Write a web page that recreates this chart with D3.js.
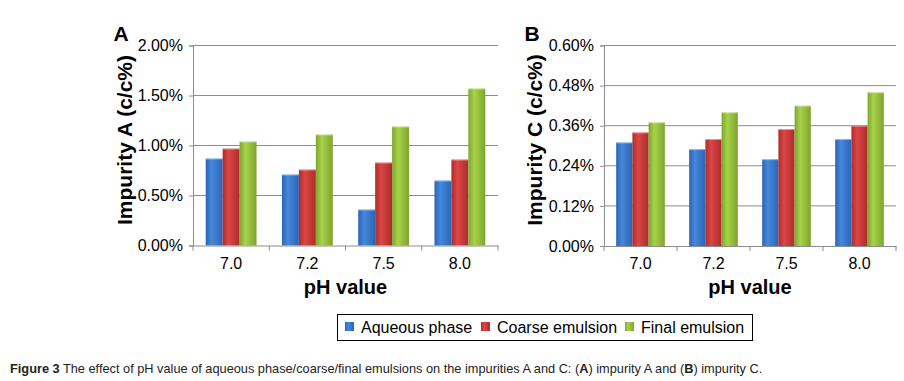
<!DOCTYPE html>
<html>
<head>
<meta charset="utf-8">
<script src="https://cdn.jsdelivr.net/npm/d3@7"></script>
<style>
  body { margin: 0; background: #fff; }
  svg { display: block; font-family: "Liberation Sans", Arial, sans-serif; }
</style>
</head>
<body>
<script>
// data
const categories = ["7.0", "7.2", "7.5", "8.0"];
const seriesNames = ["Aqueous phase", "Coarse emulsion", "Final emulsion"];
// impurity A (%)
const aqueousA = [0.87, 0.71, 0.36, 0.65];
const coarseA  = [0.97, 0.76, 0.83, 0.86];
const finalA   = [1.04, 1.11, 1.19, 1.57];
// impurity C (%)
const aqueousC = [0.31, 0.29, 0.26, 0.32];
const coarseC  = [0.34, 0.32, 0.35, 0.36];
const finalC   = [0.37, 0.40, 0.42, 0.46];
const ticksA = [0, 0.5, 1.0, 1.5, 2.0];
const ticksC = [0, 0.12, 0.24, 0.36, 0.48, 0.60];

const FONT = "'Liberation Sans', Arial, sans-serif";
const colors = [
  { mid: "#4488dc", edge: "#2d64b4" },
  { mid: "#dc4646", edge: "#ac2c2c" },
  { mid: "#a6d24a", edge: "#80a42e" }
];

const W = 904, H = 381;
const svg = d3.select("body").append("svg").attr("width", W).attr("height", H);

const defs = svg.append("defs");
colors.forEach((c, i) => {
  const g = defs.append("linearGradient").attr("id", "grad" + i)
    .attr("x1", "0%").attr("x2", "100%").attr("y1", "0%").attr("y2", "0%");
  g.append("stop").attr("offset", "0%").attr("stop-color", c.edge);
  g.append("stop").attr("offset", "35%").attr("stop-color", c.mid);
  g.append("stop").attr("offset", "100%").attr("stop-color", c.edge);
});

function panel(opts) {
  const { x0, x1, y0, y1, max, ticks, series, letter, title, titleX, letterX } = opts;
  const g = svg.append("g");

  const x = d3.scaleBand().domain(categories).range([x0, x1]).padding(0);
  const xs = d3.scaleBand().domain(seriesNames).range([0, x.bandwidth()])
    .paddingInner(0).paddingOuter(0.75);
  const y = d3.scaleLinear().domain([0, max]).range([y1, y0]);

  // gridlines
  g.selectAll(".grid").data(ticks.slice(1)).join("line")
    .attr("x1", x0).attr("x2", x1)
    .attr("y1", d => y(d)).attr("y2", d => y(d))
    .attr("stroke", "#8c8c8c").attr("stroke-width", 1);

  // y axis
  const yAxis = d3.axisLeft(y).tickValues(ticks).tickSize(4).tickPadding(6)
    .tickFormat(d => d.toFixed(2) + "%");
  const ya = g.append("g").attr("transform", `translate(${x0},0)`).call(yAxis);
  ya.select(".domain").attr("stroke", "#8c8c8c");
  ya.selectAll(".tick line").attr("stroke", "#8c8c8c");
  ya.selectAll(".tick text").attr("font-size", 16).attr("fill", "#000")
    .attr("font-family", FONT);

  // bars
  series.forEach((vals, si) => {
    g.append("g").selectAll("rect").data(vals).join("rect")
      .attr("x", (d, i) => x(categories[i]) + xs(seriesNames[si]))
      .attr("width", xs.bandwidth())
      .attr("y", d => y(d))
      .attr("height", d => y(0) - y(d))
      .attr("fill", `url(#grad${si})`);
    g.append("g").selectAll("line").data(vals).join("line")
      .attr("x1", (d, i) => x(categories[i]) + xs(seriesNames[si]))
      .attr("x2", (d, i) => x(categories[i]) + xs(seriesNames[si]) + xs.bandwidth())
      .attr("y1", d => y(d) + 0.5).attr("y2", d => y(d) + 0.5)
      .attr("stroke", "#fff").attr("stroke-opacity", 0.45);
  });

  // x axis
  const xa = g.append("g").attr("transform", `translate(0,${y1})`)
    .call(d3.axisBottom(x).tickSize(0).tickPadding(12));
  xa.select(".domain").attr("stroke", "#8c8c8c");
  xa.selectAll(".tick text").attr("font-size", 16).attr("fill", "#000")
    .attr("font-family", FONT);
  const bounds = categories.map(c => x(c)).concat([x1]);
  g.selectAll(".xt").data(bounds).join("line")
    .attr("x1", d => d).attr("x2", d => d)
    .attr("y1", y1).attr("y2", y1 + 5)
    .attr("stroke", "#8c8c8c");

  // titles
  g.append("text")
    .attr("transform", `translate(${titleX},140) rotate(-90)`)
    .attr("text-anchor", "middle").attr("dy", "0.35em")
    .attr("font-size", 21).attr("font-weight", "bold")
    .text(title);
  g.append("text").attr("x", (x0 + x1) / 2).attr("y", 294)
    .attr("text-anchor", "middle").attr("font-size", 20).attr("font-weight", "bold")
    .text("pH value");
  g.append("text").attr("x", letterX).attr("y", 41)
    .attr("text-anchor", "middle").attr("font-size", 21).attr("font-weight", "bold")
    .text(letter);
}

panel({ x0: 193, x1: 498, y0: 45.5, y1: 245.5, max: 2.0, ticks: ticksA,
  series: [aqueousA, coarseA, finalA], letter: "A",
  title: "Impurity A (c/c%)", titleX: 125, letterX: 121 });
panel({ x0: 604, x1: 896, y0: 45.5, y1: 246, max: 0.6, ticks: ticksC,
  series: [aqueousC, coarseC, finalC], letter: "B",
  title: "Impurity C (c/c%)", titleX: 535, letterX: 532 });

// legend
const lg = svg.append("g");
lg.append("rect").attr("x", 337.5).attr("y", 314.5).attr("width", 415).attr("height", 26)
  .attr("fill", "#fff").attr("stroke", "#000").attr("stroke-width", 1);
const legX = [345, 481, 625];
seriesNames.forEach((n, i) => {
  lg.append("rect").attr("x", legX[i]).attr("y", 322).attr("width", 9).attr("height", 9)
    .attr("fill", `url(#grad${i})`);
  lg.append("text").attr("x", legX[i] + 16).attr("y", 333).attr("font-size", 16)
    .attr("font-family", FONT).text(n);
});

// caption, squeezed horizontally to the width it takes in the figure
const cap = svg.append("text").attr("x", 0).attr("y", 0)
  .attr("font-size", 13).attr("fill", "#222").attr("font-family", FONT);
cap.append("tspan").attr("font-weight", "bold").text("Figure 3");
cap.append("tspan").text(" The effect of pH value of aqueous phase/coarse/final emulsions on the impurities A and C: (");
cap.append("tspan").attr("font-weight", "bold").text("A");
cap.append("tspan").text(") impurity A and (");
cap.append("tspan").attr("font-weight", "bold").text("B");
cap.append("tspan").text(") impurity C.");
const capLen = cap.node().getComputedTextLength();
cap.attr("transform", `translate(10,373) scale(${753 / capLen},1)`);
</script>
</body>
</html>
